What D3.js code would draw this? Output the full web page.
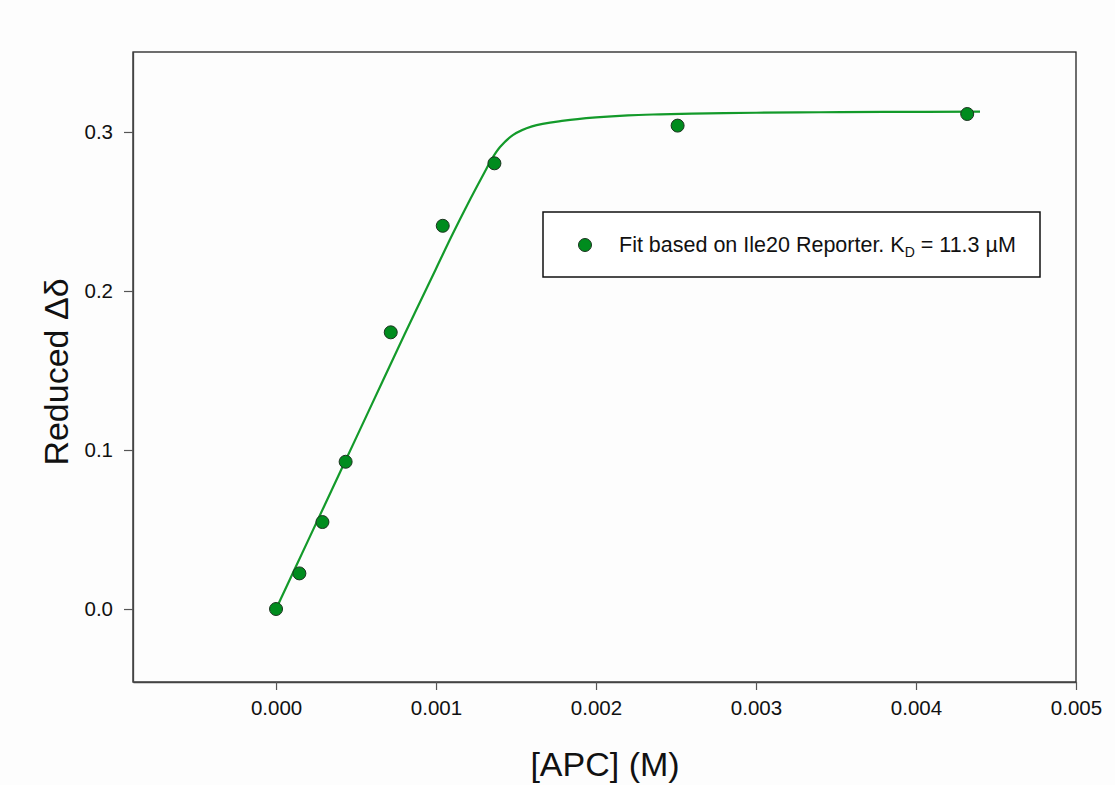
<!DOCTYPE html>
<html>
<head>
<meta charset="utf-8">
<script src="https://cdn.jsdelivr.net/npm/d3@7"></script>
<style>
  body { margin: 0; background: #fdfdfd; }
  svg { font-family: "Liberation Sans", Arial, sans-serif; }
</style>
</head>
<body>
<svg id="chart" width="1115" height="785"></svg>
<script>
// measured points
var concX = [0.0, 0.000146, 0.00029, 0.000435, 0.000717, 0.001042, 0.001365, 0.00251, 0.00432];
var deltaY = [0.0, 0.0224, 0.0547, 0.0926, 0.174, 0.241, 0.2803, 0.304, 0.3113];

// fitted curve
var fitX = [0, 0.0002, 0.0004, 0.0006, 0.0008, 0.001, 0.0011, 0.0012, 0.0013, 0.00135, 0.0014,
  0.00148, 0.0016, 0.0018, 0.002, 0.0022, 0.0024, 0.0027, 0.003, 0.0034, 0.0038, 0.0044];
var fitY = [0, 0.043, 0.086, 0.129, 0.172, 0.214, 0.235, 0.255, 0.274, 0.2832, 0.2905,
  0.298, 0.3035, 0.3071, 0.3092, 0.3105, 0.3111, 0.3117, 0.3121, 0.3124, 0.3126, 0.3128];

var xTicks = [0, 0.001, 0.002, 0.003, 0.004, 0.005];
var yTicks = [0, 0.1, 0.2, 0.3];

var legendLabel = 'Fit based on Ile20 Reporter. K';

var svg = d3.select('#chart');
var plotLeft = 133, plotRight = 1076, plotTop = 52, plotBottom = 682;

var x = d3.scaleLinear().domain([-0.000894, 0.005]).range([plotLeft, plotRight]);
var y = d3.scaleLinear().domain([-0.0459, 0.3503]).range([plotBottom, plotTop]);

var green = '#008c1e';

// frame
svg.append('rect')
  .attr('x', plotLeft).attr('y', plotTop)
  .attr('width', plotRight - plotLeft).attr('height', plotBottom - plotTop)
  .attr('fill', 'none').attr('stroke', '#222').attr('stroke-width', 1.3);

var xAxis = svg.append('g')
  .attr('transform', 'translate(0,' + plotBottom + ')')
  .call(d3.axisBottom(x).tickValues(xTicks).tickFormat(d3.format('.3f')).tickSizeInner(8).tickSizeOuter(0).tickPadding(10));

var yAxis = svg.append('g')
  .attr('transform', 'translate(' + plotLeft + ',0)')
  .call(d3.axisLeft(y).tickValues(yTicks).tickFormat(d3.format('.1f')).tickSizeInner(9).tickSizeOuter(0).tickPadding(11));

[xAxis, yAxis].forEach(function (ax) {
  ax.select('.domain').attr('stroke', '#444').attr('stroke-width', 1.3);
  ax.selectAll('.tick line').attr('stroke', '#555').attr('stroke-width', 1.2);
  ax.selectAll('.tick text')
    .attr('font-size', 20.5)
    .attr('fill', '#111')
    .attr('font-family', '"Liberation Sans", Arial, sans-serif');
});

// fit line
var line = d3.line()
  .x(function (d) { return x(d[0]); })
  .y(function (d) { return y(d[1]); })
  .curve(d3.curveCatmullRom.alpha(0.5));

svg.append('path')
  .datum(d3.zip(fitX, fitY))
  .attr('d', line)
  .attr('fill', 'none')
  .attr('stroke', '#139a2a')
  .attr('stroke-width', 2.2);

// data points
svg.append('g').selectAll('circle')
  .data(d3.zip(concX, deltaY))
  .enter().append('circle')
  .attr('cx', function (d) { return x(d[0]); })
  .attr('cy', function (d) { return y(d[1]); })
  .attr('r', 6.5)
  .attr('fill', green)
  .attr('stroke', '#1c3320')
  .attr('stroke-width', 1);

// axis titles
svg.append('text')
  .attr('x', (plotLeft + plotRight) / 2 + 0.5)
  .attr('y', 776)
  .attr('text-anchor', 'middle')
  .attr('font-size', 34)
  .attr('fill', '#111')
  .text('[APC] (M)');

svg.append('text')
  .attr('transform', 'translate(68,' + ((plotTop + plotBottom) / 2 + 5) + ') rotate(-90)')
  .attr('text-anchor', 'middle')
  .attr('font-size', 34)
  .attr('fill', '#111')
  .text('Reduced \u0394\u03b4');

// legend
var legend = svg.append('g');
legend.append('rect')
  .attr('x', 543).attr('y', 212)
  .attr('width', 497).attr('height', 65)
  .attr('fill', '#fff').attr('stroke', '#111').attr('stroke-width', 1.5);
legend.append('circle')
  .attr('cx', 585).attr('cy', 245)
  .attr('r', 6.5)
  .attr('fill', green).attr('stroke', '#1c3320');
var lt = legend.append('text')
  .attr('x', 619).attr('y', 252)
  .attr('font-size', 21.5)
  .attr('fill', '#111');
lt.append('tspan').text(legendLabel);
lt.append('tspan').attr('font-size', 14).attr('dy', 5).text('D');
lt.append('tspan').attr('dy', -5).text(' = 11.3 \u00b5M');
</script>
</body>
</html>
